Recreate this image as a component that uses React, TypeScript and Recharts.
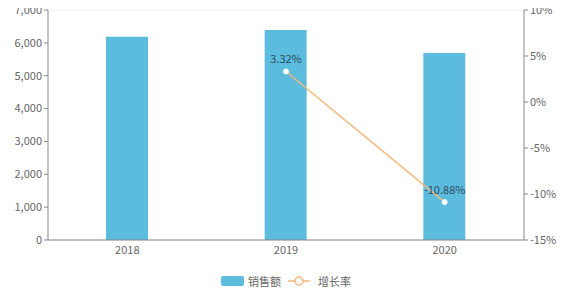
import React from "react";
import { ComposedChart, Bar, Line, XAxis, YAxis, CartesianGrid, Legend, LabelList } from "recharts";

const years = ["2018", "2019", "2020"];
const sales = [6184, 6390, 5695];
const growth: (number | null)[] = [null, 3.32, -10.88];
const leftTicks = [0, 1000, 2000, 3000, 4000, 5000, 6000, 7000];
const rightTicks = [-15, -10, -5, 0, 5, 10];

const data = years.map((y, i) => ({ year: y, sales: sales[i], growth: growth[i] }));

const FONT = "'Microsoft YaHei', 'Noto Sans CJK SC', 'Noto Sans', sans-serif";
const tickStyle = { fontSize: 11, fill: "#666", fontFamily: FONT };

const renderLegend = () => (
  <div style={{ display: "flex", justifyContent: "center", alignItems: "center", height: 22, fontSize: 11, color: "#666", fontFamily: FONT, marginLeft: 0 }}>
    <span style={{ display: "inline-block", width: 23, height: 10, background: "#5bbcdd", borderRadius: 2, marginRight: 4 }} />
    <span style={{ marginRight: 7 }}>销售额</span>
    <svg width={22} height={12} style={{ marginRight: 8 }}>
      <line x1={0} y1={6} x2={22} y2={6} stroke="#f4b77c" strokeWidth={1.5} />
      <circle cx={11} cy={6} r={4} fill="#fff" stroke="#f4b77c" strokeWidth={1.5} />
    </svg>
    <span>增长率</span>
  </div>
);

export default function App() {
  return (
    <div style={{ margin: -8, width: 572, height: 296, background: "#fff", position: "relative" }}>
      <ComposedChart width={572} height={296} data={data} margin={{ top: 10, right: 0, bottom: 4, left: 0 }}>
        <CartesianGrid vertical={false} stroke="#f0f0f0" />
        <XAxis dataKey="year" tick={tickStyle} axisLine={{ stroke: "#888" }} tickLine={false} height={30} tickMargin={0} />
        <YAxis yAxisId="left" width={48} domain={[0, 7000]} ticks={leftTicks} tick={tickStyle}
          axisLine={{ stroke: "#888" }} tickLine={{ stroke: "#888" }} tickSize={4}
          tickFormatter={(v: number) => v.toLocaleString("en-US")} interval={0} />
        <YAxis yAxisId="right" orientation="right" width={48} domain={[-15, 10]} ticks={rightTicks} tick={tickStyle}
          axisLine={{ stroke: "#888" }} tickLine={{ stroke: "#888" }} tickSize={4}
          tickFormatter={(v: number) => `${v}%`} interval={0} />
        <Legend verticalAlign="bottom" height={22} content={renderLegend} />
        <Bar yAxisId="left" dataKey="sales" fill="#5bbcdd" barSize={42} isAnimationActive={false} />
        <Line yAxisId="right" dataKey="growth" stroke="#f4b77c" strokeWidth={1.5}
          dot={{ r: 2.5, fill: "#fff", stroke: "#fff", strokeWidth: 1 }} isAnimationActive={false} connectNulls={false}>
          <LabelList dataKey="growth" position="top" offset={8}
            formatter={(v: any) => (v == null ? "" : `${Number(v).toFixed(2)}%`)}
            style={{ fontSize: 11, fill: "#2f4a63", fontFamily: FONT }} />
        </Line>
      </ComposedChart>
    </div>
  );
}
